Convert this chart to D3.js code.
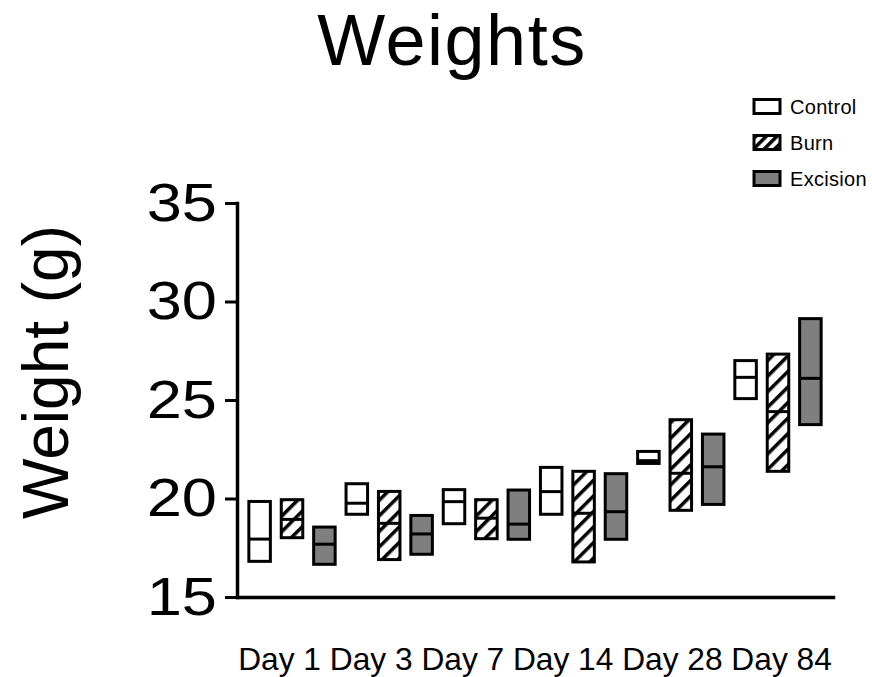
<!DOCTYPE html>
<html>
<head>
<meta charset="utf-8">
<script src="https://cdn.jsdelivr.net/npm/d3@7"></script>
<style>
  body { margin: 0; background: #fff; }
  text { font-family: "Liberation Sans", Arial, Helvetica, sans-serif; fill: #000; }
</style>
</head>
<body>
<svg id="chart" width="872" height="677"></svg>
<script>
// days and groups
var days = ["Day 1", "Day 3", "Day 7", "Day 14", "Day 28", "Day 84"];
var groups = ["Control", "Burn", "Excision"];
var yTicks = [15, 20, 25, 30, 35];

// floating bars: min to max, line at mean (g)
var controlHigh = [19.85, 20.75, 20.45, 21.58, 22.39, 27.0];
var controlLow  = [16.81, 19.2, 18.72, 19.2, 21.78, 25.07];
var controlMean = [17.94, 19.76, 19.84, 20.35, 21.92, 26.15];

var burnHigh = [19.94, 20.36, 19.94, 21.38, 24.0, 27.33];
var burnLow  = [18.01, 16.9, 17.96, 16.78, 19.4, 21.38];
var burnMean = [18.94, 18.74, 19.0, 19.25, 21.28, 24.41];

var excisionHigh = [18.55, 19.14, 20.43, 21.26, 23.27, 29.13];
var excisionLow  = [16.66, 17.17, 17.93, 17.93, 19.7, 23.75];
var excisionMean = [17.68, 18.2, 18.7, 19.33, 21.61, 26.1];

var series = {
	"Control": {high: controlHigh, low: controlLow, mean: controlMean},
	"Burn": {high: burnHigh, low: burnLow, mean: burnMean},
	"Excision": {high: excisionHigh, low: excisionLow, mean: excisionMean}
};

var rows = [];
days.forEach(function(d, i) {
	groups.forEach(function(g) {
		rows.push({day: d, group: g, high: series[g].high[i], low: series[g].low[i], mean: series[g].mean[i]});
	});
});

var margin = {left: 237, top: 203};
var width = 596, height = 394;

var svg = d3.select("#chart");

var defs = svg.append("defs");
function hatch(id, size) {
	var p = defs.append("pattern")
		.attr("id", id)
		.attr("patternUnits", "userSpaceOnUse")
		.attr("width", size)
		.attr("height", size)
		.attr("patternTransform", "rotate(45)");
	p.append("rect").attr("width", size).attr("height", size).attr("fill", "#fff");
	p.append("rect").attr("width", 3.5).attr("height", size).attr("fill", "#000");
}
hatch("hatch", 11);
hatch("hatchSmall", 7.5);

var fills = {"Control": "#fff", "Burn": "url(#hatch)", "Excision": "#7f7f7f"};
var legendFills = {"Control": "#fff", "Burn": "url(#hatchSmall)", "Excision": "#7f7f7f"};

var x0 = d3.scaleBand()
	.domain(days)
	.range([0, width])
	.paddingInner(0)
	.paddingOuter(0.066);

var x1 = d3.scaleBand()
	.domain(groups)
	.range([0, x0.bandwidth()])
	.paddingInner(0.336)
	.paddingOuter(0.168);

var y = d3.scaleLinear()
	.domain([15, 35])
	.range([height, 0]);

var g = svg.append("g").attr("transform", "translate(" + margin.left + "," + margin.top + ")");

// bars
var bars = g.append("g").attr("class", "bars")
	.selectAll("g.bar")
	.data(rows)
	.join("g")
	.classed("bar", true)
	.attr("transform", function(d) { return "translate(" + (x0(d.day) + x1(d.group)) + ",0)"; });

bars.append("rect")
	.attr("x", 0)
	.attr("y", function(d) { return y(d.high); })
	.attr("width", x1.bandwidth())
	.attr("height", function(d) { return y(d.low) - y(d.high); })
	.attr("fill", function(d) { return fills[d.group]; })
	.attr("stroke", "#000")
	.attr("stroke-width", 3);

bars.append("line")
	.attr("x1", 0)
	.attr("x2", x1.bandwidth())
	.attr("y1", function(d) { return y(d.mean); })
	.attr("y2", function(d) { return y(d.mean); })
	.attr("stroke", "#000")
	.attr("stroke-width", 3);

// y axis
var yAxis = g.append("g")
	.call(d3.axisLeft(y).tickValues(yTicks).tickSize(12).tickSizeOuter(0).tickFormat(d3.format("d")));
yAxis.select(".domain").attr("stroke-width", 3.5).attr("stroke-linecap", "square");
yAxis.selectAll(".tick line").attr("stroke-width", 3);
yAxis.selectAll(".tick text")
	.attr("font-size", 54)
	.attr("font-family", null)
	.attr("x", -17.1)
	.attr("transform", "scale(1.17,1)");

// x axis (labels run as one line under the axis, like the original)
var xAxis = g.append("g")
	.attr("transform", "translate(0," + height + ")")
	.call(d3.axisBottom(x0).tickSize(0).tickSizeOuter(0).tickFormat(""));
xAxis.select(".domain").attr("stroke-width", 3.5).attr("stroke-linecap", "square");

g.append("text")
	.attr("x", width / 2)
	.attr("y", height + 73)
	.attr("text-anchor", "middle")
	.attr("font-size", 31.7)
	.text(days.join(" "));

// title
svg.append("text")
	.attr("x", 452)
	.attr("y", 65)
	.attr("text-anchor", "middle")
	.attr("font-size", 72)
	.attr("letter-spacing", 1.5)
	.text("Weights");

// y label
svg.append("text")
	.attr("transform", "translate(68,372) rotate(-90)")
	.attr("text-anchor", "middle")
	.attr("font-size", 64)
	.text("Weight (g)");

// legend
var legend = svg.append("g").attr("class", "legend")
	.selectAll("g")
	.data(groups)
	.join("g")
	.attr("transform", function(d, i) { return "translate(754," + (99.5 + i * 36) + ")"; });

legend.append("rect")
	.attr("width", 26)
	.attr("height", 14)
	.attr("fill", function(d) { return legendFills[d]; })
	.attr("stroke", "#000")
	.attr("stroke-width", 3);

legend.append("text")
	.attr("x", 36)
	.attr("y", 14.5)
	.attr("font-size", 20)
	.attr("letter-spacing", 0.3)
	.text(function(d) { return d; });
</script>
</body>
</html>
